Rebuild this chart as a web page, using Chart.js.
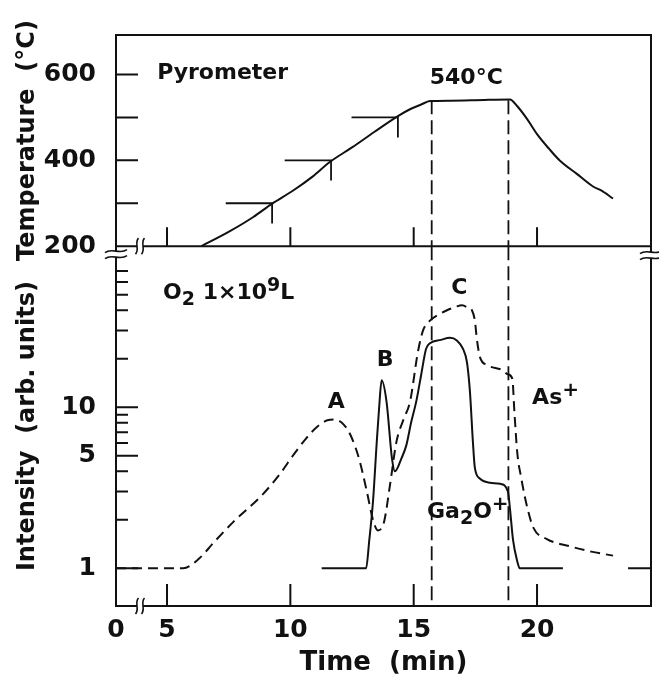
<!DOCTYPE html>
<html>
<head>
<meta charset="UTF-8">
<title>Pyrometer / Intensity vs Time</title>
<script src="https://cdn.jsdelivr.net/npm/chart.js"></script>
<style>
  body { margin: 0; background: #fff; }
  canvas { display: block; }
</style>
</head>
<body>
<canvas id="chart" width="659" height="680"></canvas>
<script>
// ---- data ----
const tempTime = [6.4, 7.55, 8.5, 9.26, 10.1, 10.9, 11.6, 12.5, 13.4, 14.36, 14.85, 15.3, 15.66, 16.5, 17.5, 18.9, 19.2, 19.6, 20.0, 20.5, 20.93, 21.6, 22.27, 22.6, 23.08];
const tempC    = [200, 235, 268, 299, 329, 362, 396, 430, 466, 503, 519, 530, 538, 539, 540, 542, 526, 496, 461, 426, 399, 369, 339, 330, 311];

// pyrometer reading marks (horizontal bar + drop)
const markTime = [9.26, 11.65, 14.36];
const markTemp = [300, 400, 500];

// As+ (dashed)
const asTime = [2.93, 5.65, 6.3, 6.9, 7.7, 8.9, 9.6, 10.1, 10.6, 11.1, 11.5, 11.8, 12.2, 12.5, 12.8, 13.1, 13.35, 13.55, 13.8, 14.04, 14.3, 14.6, 14.85, 15.17, 15.38, 15.66, 16.0, 16.35, 16.7, 16.96, 17.2, 17.36, 17.48, 17.56, 17.69, 17.97, 18.6, 18.82, 19.0, 19.08, 19.2, 19.35, 19.6, 19.85, 20.4, 21.34, 22.2, 23.08];
const asInt  = [1, 1, 1.15, 1.45, 1.95, 2.9, 3.9, 5.0, 6.3, 7.6, 8.3, 8.4, 7.7, 6.4, 4.7, 3.0, 2.0, 1.72, 1.95, 3.3, 6.1, 8.5, 10.8, 22, 30, 34.5, 37.5, 40, 42, 43, 41.5, 40, 34.5, 26.5, 20.4, 18.3, 17, 16, 15, 9.5, 5.2, 3.7, 2.4, 1.79, 1.52, 1.37, 1.27, 1.2];
const asTailTime = [23.69, 24.62];
const asTailInt  = [1, 1];

// Ga2O+ (solid)
const gaTime = [11.27, 13.07, 13.2, 13.35, 13.5, 13.6, 13.7, 13.9, 14.12, 14.24, 14.5, 14.7, 14.9, 15.1, 15.3, 15.5, 15.66, 16.1, 16.47, 16.75, 17.0, 17.16, 17.28, 17.4, 17.48, 17.69, 18.1, 18.5, 18.82, 18.9, 19.03, 19.19, 19.3, 21.05];
const gaInt  = [1, 1, 1.5, 2.6, 6.0, 10, 14.7, 10.8, 4.8, 4.0, 4.8, 5.8, 8.1, 10.8, 15.8, 23, 25, 26.2, 27, 26, 23, 19, 12.5, 6.1, 4.2, 3.6, 3.4, 3.35, 3.0, 2.37, 1.49, 1.12, 1.0, 1.0];

// dashed guides at start / end of the 540 °C plateau
const plateauTime = [15.73, 18.84];
const plateauTemp = 540;

// axes
const xMin = 2.932, xMax = 24.62;
const xTicks = [5, 10, 15, 20];
const tempMin = 200, tempMax = 692;
const tempTicks = [200, 300, 400, 500, 600];
const tempLabels = [200, 400, 600];
const intMin = 0.584, intMax = 100;
const intTicks = [1, 2, 3, 4, 5, 6, 7, 8, 9, 10, 20, 30, 40, 50, 60, 70];
const intLabels = [1, 5, 10];

const ink = '#111';
const fam = '"DejaVu Sans", "Liberation Sans", sans-serif';

const pts = (xs, ys) => xs.map((x, i) => ({ x: x, y: ys[i] }));

const datasets = [];
const line = (data, axis, extra) => Object.assign({
  data: data, yAxisID: axis, borderColor: ink, borderWidth: 2,
  pointRadius: 0, fill: false, tension: 0
}, extra || {});

datasets.push(line(pts(tempTime, tempC), 'yT', { cubicInterpolationMode: 'monotone' }));
markTime.forEach((t, i) => {
  datasets.push(line([{ x: t - 1.88, y: markTemp[i] }, { x: t, y: markTemp[i] }, { x: t, y: markTemp[i] - 47 }], 'yT', { borderWidth: 1.8 }));
});
plateauTime.forEach(t => {
  datasets.push(line([{ x: t, y: plateauTemp }, { x: t, y: tempMin }], 'yT', { borderDash: [14, 6], borderWidth: 1.8 }));
  datasets.push(line([{ x: t, y: intMax }, { x: t, y: intMin }], 'yI', { borderDash: [14, 6], borderWidth: 1.8 }));
});
datasets.push(line(pts(asTime, asInt), 'yI', { borderDash: [10, 6], cubicInterpolationMode: 'monotone' }));
datasets.push(line(pts(asTailTime, asTailInt), 'yI'));
datasets.push(line(pts(gaTime, gaInt), 'yI', { cubicInterpolationMode: 'monotone' }));

// in-plot labels: [segments, time, value, axis]; segment = [text, dy, scale]
const notes = [
  [[['Pyrometer', 0, 1]], 4.6, 602, 'yT'],
  [[['540°C', 0, 1]], 15.65, 591, 'yT'],
  [[['O', 0, 1], ['2', 7, 0.85], [' 1×10', 0, 1], ['9', -7, 0.85], ['L', 0, 1]], 4.84, 51, 'yI'],
  [[['A', 0, 1]], 11.52, 10.8, 'yI'],
  [[['B', 0, 1]], 13.5, 19.6, 'yI'],
  [[['C', 0, 1]], 16.52, 55, 'yI'],
  [[['As', 0, 1], ['+', -7, 0.9]], 19.8, 11.4, 'yI'],
  [[['Ga', 0, 1], ['2', 7, 0.85], ['O', 0, 1], ['+', -7, 0.9]], 15.54, 2.24, 'yI']
];

function breakH(ctx, x, y) {
  ctx.fillStyle = '#fff';
  ctx.fillRect(x - 3, y - 2, 6, 4);
  ctx.beginPath();
  [-3, 3].forEach(d => {
    ctx.moveTo(x + d + 1.5, y - 8);
    ctx.bezierCurveTo(x + d - 3, y - 3, x + d + 3, y + 3, x + d - 1.5, y + 8);
  });
  ctx.stroke();
}
function breakV(ctx, x, y) {
  ctx.fillStyle = '#fff';
  ctx.fillRect(x - 2, y - 3, 4, 6);
  ctx.beginPath();
  [-3, 3].forEach(d => {
    ctx.moveTo(x - 11, y + d + 1.5);
    ctx.bezierCurveTo(x - 4, y + d - 4, x + 4, y + d + 4, x + 11, y + d - 1.5);
  });
  ctx.stroke();
}

const frame = {
  id: 'frame',
  afterDraw(chart) {
    const { ctx, chartArea: a, scales } = chart;
    const sx = scales.x, yT = scales.yT, yI = scales.yI;
    const mid = yT.bottom;
    ctx.save();
    ctx.strokeStyle = ink;
    ctx.lineWidth = 2;
    ctx.beginPath();
    ctx.moveTo(a.left, a.top); ctx.lineTo(a.right, a.top); ctx.lineTo(a.right, a.bottom);
    ctx.moveTo(a.left, mid); ctx.lineTo(a.right, mid);
    xTicks.forEach(v => {
      const p = sx.getPixelForValue(v);
      ctx.moveTo(p, a.bottom); ctx.lineTo(p, a.bottom - 22);
      ctx.moveTo(p, mid); ctx.lineTo(p, mid - 19);
    });
    tempTicks.slice(1).forEach(v => {
      const p = yT.getPixelForValue(v);
      ctx.moveTo(a.left, p); ctx.lineTo(a.left + 22, p);
    });
    intTicks.forEach(v => {
      const p = yI.getPixelForValue(v);
      ctx.moveTo(a.left, p); ctx.lineTo(a.left + (intLabels.includes(v) ? 22 : 12), p);
    });
    ctx.stroke();

    ctx.lineWidth = 1.6;
    const bx = sx.left + 24;
    breakH(ctx, bx, mid);
    breakH(ctx, bx, a.bottom);
    breakV(ctx, a.left, mid + 8);
    breakV(ctx, a.right, mid + 9);

    ctx.fillStyle = ink;
    ctx.textBaseline = 'middle';
    ctx.textAlign = 'left';
    notes.forEach(([segs, t, v, axis]) => {
      let x = sx.getPixelForValue(t);
      const y = scales[axis].getPixelForValue(v);
      segs.forEach(([txt, dy, k]) => {
        ctx.font = 'bold ' + Math.round(22 * k) + 'px ' + fam;
        ctx.fillText(txt, x, y + dy);
        x += ctx.measureText(txt).width;
      });
    });
    ctx.restore();
  }
};

new Chart(document.getElementById('chart'), {
  type: 'line',
  data: { datasets: datasets },
  options: {
    responsive: false,
    animation: false,
    layout: { padding: { top: 30, right: 8, bottom: 0, left: 0 } },
    plugins: { legend: { display: false }, tooltip: { enabled: false } },
    scales: {
      x: {
        type: 'linear', min: xMin, max: xMax,
        grid: { display: false, drawTicks: false },
        border: { display: true, color: ink, width: 2 },
        afterBuildTicks: s => { s.ticks = [xMin].concat(xTicks).map(v => ({ value: v })); },
        afterFit: s => { s.height = 74; },
        ticks: {
          autoSkip: false, maxRotation: 0, padding: 9, color: ink,
          font: { family: fam, size: 25, weight: 'bold' },
          callback: v => (v < 4 ? '0' : String(v))
        },
        title: {
          display: true, text: 'Time  (min)', color: ink,
          font: { family: fam, size: 26, weight: 'bold' },
          padding: { top: 0, bottom: 1 }
        }
      },
      yI: {
        type: 'logarithmic', position: 'left', stack: 'left', stackWeight: 363,
        min: intMin, max: intMax,
        grid: { display: false, drawTicks: false },
        border: { display: true, color: ink, width: 2 },
        afterBuildTicks: s => { s.ticks = intTicks.map(v => ({ value: v })); },
        afterFit: s => { s.width = 116; },
        ticks: {
          autoSkip: false, padding: 20, color: ink,
          font: { family: fam, size: 25, weight: 'bold' },
          callback: v => (intLabels.includes(v) ? String(v) : '')
        },
        title: {
          display: true, text: 'Intensity  (arb. units)', color: ink,
          font: { family: fam, size: 24, weight: 'bold' },
          padding: { top: 13, bottom: 0 }
        }
      },
      yT: {
        type: 'linear', position: 'left', stack: 'left', stackWeight: 213,
        min: tempMin, max: tempMax,
        grid: { display: false, drawTicks: false },
        border: { display: true, color: ink, width: 2 },
        afterBuildTicks: s => { s.ticks = tempTicks.map(v => ({ value: v })); },
        afterFit: s => { s.width = 116; },
        ticks: {
          autoSkip: false, padding: 20, color: ink,
          font: { family: fam, size: 25, weight: 'bold' },
          callback: v => (tempLabels.includes(v) ? String(v) : '')
        },
        title: {
          display: true, text: 'Temperature  (°C)', color: ink,
          font: { family: fam, size: 24, weight: 'bold' },
          padding: { top: 13, bottom: 0 }
        }
      }
    }
  },
  plugins: [frame]
});
</script>
</body>
</html>
